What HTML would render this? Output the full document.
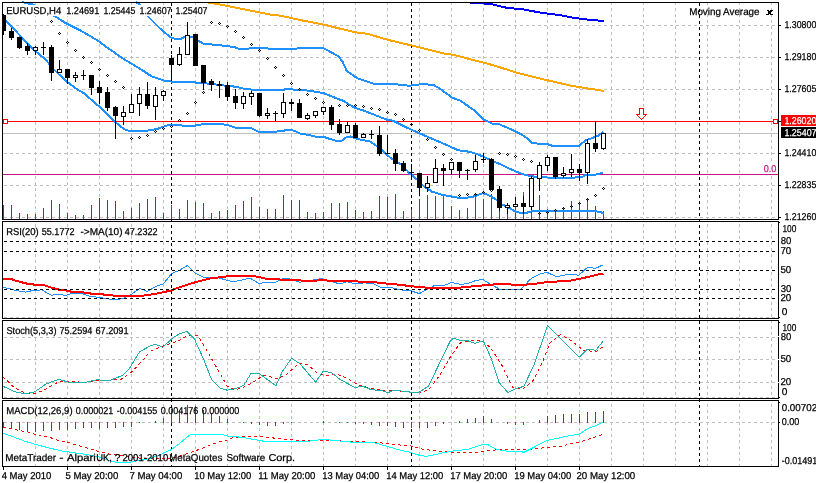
<!DOCTYPE html>
<html><head><meta charset="utf-8"><style>html,body{margin:0;padding:0;width:816px;height:483px;overflow:hidden;background:#fff}</style></head>
<body>
<svg width="816" height="483" viewBox="0 0 816 483" shape-rendering="crispEdges" style="display:block;position:absolute;left:0;top:0;will-change:transform">
<rect x="0" y="0" width="816" height="483" fill="#fff"/>
<path d="M35.5,3V219M67.5,3V219M99.5,3V219M131.5,3V219M163.5,3V219M195.5,3V219M227.5,3V219M259.5,3V219M291.5,3V219M323.5,3V219M355.5,3V219M387.5,3V219M419.5,3V219M451.5,3V219M483.5,3V219M515.5,3V219M547.5,3V219M579.5,3V219M611.5,3V219M643.5,3V219M675.5,3V219M707.5,3V219M739.5,3V219M771.5,3V219" stroke="#c0c0c0" stroke-width="1" stroke-dasharray="3 3" stroke-dashoffset="1" fill="none"/>
<path d="M35.5,222V318M67.5,222V318M99.5,222V318M131.5,222V318M163.5,222V318M195.5,222V318M227.5,222V318M259.5,222V318M291.5,222V318M323.5,222V318M355.5,222V318M387.5,222V318M419.5,222V318M451.5,222V318M483.5,222V318M515.5,222V318M547.5,222V318M579.5,222V318M611.5,222V318M643.5,222V318M675.5,222V318M707.5,222V318M739.5,222V318M771.5,222V318" stroke="#c0c0c0" stroke-width="1" stroke-dasharray="3 3" stroke-dashoffset="4" fill="none"/>
<path d="M35.5,321V398M67.5,321V398M99.5,321V398M131.5,321V398M163.5,321V398M195.5,321V398M227.5,321V398M259.5,321V398M291.5,321V398M323.5,321V398M355.5,321V398M387.5,321V398M419.5,321V398M451.5,321V398M483.5,321V398M515.5,321V398M547.5,321V398M579.5,321V398M611.5,321V398M643.5,321V398M675.5,321V398M707.5,321V398M739.5,321V398M771.5,321V398" stroke="#c0c0c0" stroke-width="1" stroke-dasharray="3 3" stroke-dashoffset="1" fill="none"/>
<path d="M35.5,401V466M67.5,401V466M99.5,401V466M131.5,401V466M163.5,401V466M195.5,401V466M227.5,401V466M259.5,401V466M291.5,401V466M323.5,401V466M355.5,401V466M387.5,401V466M419.5,401V466M451.5,401V466M483.5,401V466M515.5,401V466M547.5,401V466M579.5,401V466M611.5,401V466M643.5,401V466M675.5,401V466M707.5,401V466M739.5,401V466M771.5,401V466" stroke="#c0c0c0" stroke-width="1" stroke-dasharray="3 3" stroke-dashoffset="3" fill="none"/>
<path d="M4,25.5H778M4,57.5H778M4,89.5H778M4,121.5H778M4,153.5H778M4,185.5H778M4,217.5H778M4,317.5H778M4,337.5H778M4,359.5H778M4,382.5H778M4,397.5H778M4,422.5H778" stroke="#c0c0c0" stroke-width="1" stroke-dasharray="3 3" fill="none"/>
<path d="M171.5,3V466M411.5,3V466M699.5,3V466" stroke="#000" stroke-width="1" stroke-dasharray="3 3" fill="none"/>
<path d="M3.5,205V219M11.5,205V219M19.5,213V219M27.5,214V219M35.5,214V219M43.5,208V219M51.5,200V219M59.5,204V219M67.5,213V219M75.5,215V219M83.5,215V219M91.5,205V219M99.5,198V219M107.5,200V219M115.5,201V219M123.5,211V219M131.5,208V219M139.5,203V219M147.5,199V219M155.5,197V219M163.5,213V219M171.5,205V219M179.5,209V219M187.5,200V219M195.5,202V219M203.5,203V219M211.5,213V219M219.5,211V219M227.5,210V219M235.5,205V219M243.5,201V219M251.5,197V219M259.5,207V219M267.5,209V219M275.5,209V219M283.5,195V219M291.5,200V219M299.5,200V219M307.5,212V219M315.5,213V219M323.5,212V219M331.5,203V219M339.5,203V219M347.5,202V219M355.5,210V219M363.5,212V219M371.5,211V219M379.5,196V219M387.5,197V219M395.5,194V219M403.5,211V219M411.5,209V219M419.5,199V219M427.5,195V219M435.5,196V219M443.5,195V219M451.5,206V219M459.5,210V219M467.5,208V219M475.5,194V219M483.5,199V219M491.5,194V219M499.5,211V219M507.5,212V219M515.5,207V219M523.5,192V219M531.5,210V219M539.5,195V219M547.5,209V219M555.5,209V219M563.5,208V219M571.5,201V219M579.5,202V219M587.5,198V219M595.5,206V219M603.5,211V219" stroke="#008000" stroke-width="1" fill="none"/>
<path d="M8,121.5H773" stroke="#ff0000" stroke-width="1"/>
<path d="M3,133.5H778" stroke="#c0c0c0" stroke-width="1"/>
<path d="M3,174.5H778" stroke="#c71585" stroke-width="1"/>
<polyline points="208.0,2.5 220.0,4.5 270.0,14.5 280.0,15.6 300.8,20.2 323.8,24.6 355.0,32.3 367.5,33.8 388.3,40.0 411.3,45.4 430.0,50.0 446.7,54.2 453.2,54.7 473.1,60.0 492.9,65.1 517.2,72.8 545.9,79.9 572.4,86.0 603.7,90.9" stroke="#ffa500" stroke-width="2" fill="none" shape-rendering="crispEdges"/>
<polyline points="470.0,2.5 475.3,2.9 490.7,4.0 506.2,7.7 523.8,9.5 541.5,12.8 559.1,15.0 572.4,17.6 590.0,19.9 603.7,21.0" stroke="#0000ff" stroke-width="2" fill="none" shape-rendering="crispEdges"/>
<polyline points="135.5,2.0 139.5,4.5 147.5,16.0 160.0,28.5 170.4,37.3 175.5,39.0 180.7,38.8 185.9,36.2 192.0,36.7 203.5,43.8 211.8,44.5 227.3,46.0 235.4,47.4 239.5,49.0 259.2,48.0 275.8,49.0 280.0,49.4 300.8,48.3 323.8,48.3 338.3,56.2 342.5,61.5 346.7,70.8 357.1,78.1 375.8,84.4 396.7,84.4 409.2,85.8 423.8,83.8 434.2,85.4 440.0,88.7 451.8,97.4 459.9,100.5 473.5,109.8 484.1,119.8 492.2,123.5 499.0,124.1 514.5,130.9 522.0,134.7 529.4,140.0 532.5,143.1 540.0,143.8 547.2,144.0 551.4,145.5 579.3,145.5 585.5,140.4 591.8,138.3 598.0,135.7 603.4,131.6" stroke="#1e90ff" stroke-width="2" fill="none" shape-rendering="crispEdges"/>
<polyline points="22.0,2.0 32.5,4.5 55.9,16.7 66.3,23.5 80.0,30.2 96.8,40.0 108.2,48.3 124.0,59.2 142.0,70.0 151.3,76.2 164.1,80.5 171.4,81.6 195.2,81.9 196.2,82.9 208.7,83.6 224.2,85.5 234.4,86.6 243.7,88.6 252.0,89.7 284.0,89.7 286.0,88.6 291.3,88.8 294.4,90.2 306.4,90.4 315.7,91.7 324.0,93.3 335.9,98.1 344.2,101.2 350.4,105.3 356.0,108.3 363.0,110.3 371.0,113.4 382.0,117.8 388.0,120.0 392.4,120.6 401.2,124.8 411.0,129.6 420.2,133.6 436.0,140.4 446.7,145.0 458.0,150.2 470.4,151.9 480.7,155.5 491.0,160.2 501.4,164.8 511.4,169.5 522.8,174.3 532.0,176.4 547.3,177.5 557.6,177.8 581.4,177.4 584.5,175.5 595.9,174.5 603.1,172.6" stroke="#1e90ff" stroke-width="2" fill="none" shape-rendering="crispEdges"/>
<polyline points="3.0,19.0 5.7,20.9 15.5,30.7 25.9,42.1 35.2,50.9 45.0,59.0 54.4,70.0 64.7,79.9 77.0,89.2 84.0,93.3 97.5,105.2 100.0,106.7 114.5,121.5 123.8,129.0 129.0,130.8 146.6,130.8 157.0,129.0 167.3,125.4 176.0,124.7 182.7,125.6 194.9,125.6 204.3,124.0 219.1,124.0 227.2,124.9 235.3,127.6 251.5,128.3 258.2,131.7 275.8,131.7 290.4,129.7 296.6,131.8 300.7,133.8 309.0,134.9 316.2,136.9 323.5,136.9 331.8,139.5 338.0,141.6 342.1,140.5 346.2,137.4 350.4,136.4 355.6,138.5 360.0,139.5 370.2,141.6 380.4,148.6 390.7,158.1 401.0,164.3 410.0,173.7 416.7,179.2 424.0,186.4 431.9,191.6 442.0,194.8 459.9,198.0 471.4,197.3 483.0,193.2 488.3,195.0 495.5,199.2 502.0,204.5 507.2,206.7 511.6,209.3 516.0,211.8 521.0,212.9 526.8,212.9 529.0,211.7 540.0,210.7 594.0,210.9 603.7,213.0" stroke="#1e90ff" stroke-width="2" fill="none" shape-rendering="crispEdges"/>
<rect x="762" y="163" width="15" height="11" fill="#fff"/>
<rect x="3" y="5" width="206" height="11" fill="#fff"/>
<path d="M171.5,3V16" stroke="#000" stroke-width="1" stroke-dasharray="3 3" fill="none"/>
<path d="M34,48h3v2h-3zM58,70h3v2h-3zM74,76h3v1h-3zM122,113h3v3h-3zM130,105h3v7h-3zM138,95h3v8h-3zM154,96h3v10h-3zM162,92h3v3h-3zM178,55h3v9h-3zM186,36h3v18h-3zM242,97h3v6h-3zM250,94h3v2h-3zM266,114h3v1h-3zM282,103h3v10h-3zM306,116h3v2h-3zM314,112h3v3h-3zM322,108h3v3h-3zM346,126h3v6h-3zM362,135h3v2h-3zM426,184h3v3h-3zM434,169h3v13h-3zM450,163h3v6h-3zM474,162h3v7h-3zM506,206h3v1h-3zM514,205h3v1h-3zM530,179h3v27h-3zM538,166h3v12h-3zM546,158h3v7h-3zM562,174h3v1h-3zM570,170h3v2h-3zM586,144h3v28h-3zM602,134h3v14h-3z" fill="#fff"/>
<path d="M3.5,14V35M11.5,28V40M19.5,37V49M27.5,43V55M35.5,46V55M43.5,42V55M51.5,45V81M59.5,60V73M67.5,69V84M75.5,72V82M83.5,70V80M91.5,75V95M99.5,81V104M107.5,87V111M115.5,106V139M123.5,106V125M131.5,94V113M139.5,87V116M147.5,82V109M155.5,87V120M163.5,90V101M171.5,55V81M179.5,47V66M187.5,22V55M195.5,34V66M203.5,65V90M211.5,79V91M219.5,81V98M227.5,82V101M235.5,89V109M243.5,92V109M251.5,91V105M259.5,93V117M267.5,108V119M275.5,111V121M283.5,93V118M291.5,99V111M299.5,99V118M307.5,113V120M315.5,111V118M323.5,107V115M331.5,105V130M339.5,119V135M347.5,122V133M355.5,123V138M363.5,133V138M371.5,130V139M379.5,126V156M387.5,135V154M395.5,149V171M403.5,161V172M411.5,164V178M419.5,173V196M427.5,176V192M435.5,159V183M443.5,164V186M451.5,162V175M459.5,162V178M467.5,169V180M475.5,155V172M483.5,153V163M491.5,158V190M499.5,186V211M507.5,203V214M515.5,197V207M523.5,196V214M531.5,176V210M539.5,162V191M547.5,155V171M555.5,157V179M563.5,167V178M571.5,154V177M579.5,164V181M587.5,139V184M595.5,121V152M603.5,133V150" stroke="#000" stroke-width="1" fill="none"/>
<path d="M34,48h3v2h-3zM58,70h3v2h-3zM74,76h3v1h-3zM122,113h3v3h-3zM130,105h3v7h-3zM138,95h3v8h-3zM154,96h3v10h-3zM162,92h3v3h-3zM178,55h3v9h-3zM186,36h3v18h-3zM242,97h3v6h-3zM250,94h3v2h-3zM266,114h3v1h-3zM282,103h3v10h-3zM306,116h3v2h-3zM314,112h3v3h-3zM322,108h3v3h-3zM346,126h3v6h-3zM362,135h3v2h-3zM426,184h3v3h-3zM434,169h3v13h-3zM450,163h3v6h-3zM474,162h3v7h-3zM506,206h3v1h-3zM514,205h3v1h-3zM530,179h3v27h-3zM538,166h3v12h-3zM546,158h3v7h-3zM562,174h3v1h-3zM570,170h3v2h-3zM586,144h3v28h-3zM602,134h3v14h-3z" fill="#fff"/>
<path d="M3,15h3v16h-3zM9,31h5v7h-5zM17,37h5v11h-5zM25,46h5v5h-5zM33,47h5v1h-5zM33,50h5v1h-5zM33,47h1v4h-1zM37,47h1v4h-1zM41,47h5v1h-5zM49,47h5v26h-5zM57,69h5v1h-5zM57,72h5v1h-5zM57,69h1v4h-1zM61,69h1v4h-1zM65,69h5v9h-5zM73,75h5v1h-5zM73,77h5v1h-5zM73,75h1v3h-1zM77,75h1v3h-1zM81,75h5v1h-5zM89,75h5v13h-5zM97,87h5v6h-5zM105,92h5v16h-5zM113,107h5v9h-5zM121,112h5v1h-5zM121,116h5v1h-5zM121,112h1v5h-1zM125,112h1v5h-1zM129,104h5v1h-5zM129,112h5v1h-5zM129,104h1v9h-1zM133,104h1v9h-1zM137,94h5v1h-5zM137,103h5v1h-5zM137,94h1v10h-1zM141,94h1v10h-1zM145,94h5v12h-5zM153,95h5v1h-5zM153,106h5v1h-5zM153,95h1v12h-1zM157,95h1v12h-1zM161,91h5v1h-5zM161,95h5v1h-5zM161,91h1v5h-1zM165,91h1v5h-1zM169,58h5v7h-5zM177,54h5v1h-5zM177,64h5v1h-5zM177,54h1v11h-1zM181,54h1v11h-1zM185,35h5v1h-5zM185,54h5v1h-5zM185,35h1v20h-1zM189,35h1v20h-1zM193,34h5v32h-5zM201,65h5v18h-5zM209,81h5v4h-5zM217,84h5v2h-5zM225,85h5v12h-5zM233,96h5v7h-5zM241,96h5v1h-5zM241,103h5v1h-5zM241,96h1v8h-1zM245,96h1v8h-1zM249,93h5v1h-5zM249,96h5v1h-5zM249,93h1v4h-1zM253,93h1v4h-1zM257,93h5v23h-5zM265,113h5v1h-5zM265,115h5v1h-5zM265,113h1v3h-1zM269,113h1v3h-1zM273,113h5v1h-5zM281,102h5v1h-5zM281,113h5v1h-5zM281,102h1v12h-1zM285,102h1v12h-1zM289,102h5v2h-5zM297,103h5v15h-5zM305,115h5v1h-5zM305,118h5v1h-5zM305,115h1v4h-1zM309,115h1v4h-1zM313,111h5v1h-5zM313,115h5v1h-5zM313,111h1v5h-1zM317,111h1v5h-1zM321,107h5v1h-5zM321,111h5v1h-5zM321,107h1v5h-1zM325,107h1v5h-1zM329,107h5v18h-5zM337,124h5v9h-5zM345,125h5v1h-5zM345,132h5v1h-5zM345,125h1v8h-1zM349,125h1v8h-1zM353,125h5v13h-5zM361,134h5v1h-5zM361,137h5v1h-5zM361,134h1v4h-1zM365,134h1v4h-1zM369,134h5v1h-5zM377,135h5v19h-5zM385,153h5v1h-5zM393,153h5v11h-5zM401,163h5v8h-5zM409,172h5v1h-5zM417,173h5v15h-5zM425,183h5v1h-5zM425,187h5v1h-5zM425,183h1v5h-1zM429,183h1v5h-1zM433,168h5v1h-5zM433,182h5v1h-5zM433,168h1v15h-1zM437,168h1v15h-1zM441,168h5v3h-5zM449,162h5v1h-5zM449,169h5v1h-5zM449,162h1v8h-1zM453,162h1v8h-1zM457,162h5v9h-5zM465,170h5v1h-5zM473,161h5v1h-5zM473,169h5v1h-5zM473,161h1v9h-1zM477,161h1v9h-1zM481,159h5v1h-5zM489,159h5v31h-5zM497,189h5v19h-5zM505,205h5v1h-5zM505,207h5v1h-5zM505,205h1v3h-1zM509,205h1v3h-1zM513,204h5v1h-5zM513,206h5v1h-5zM513,204h1v3h-1zM517,204h1v3h-1zM521,203h5v4h-5zM529,178h5v1h-5zM529,206h5v1h-5zM529,178h1v29h-1zM533,178h1v29h-1zM537,165h5v1h-5zM537,178h5v1h-5zM537,165h1v14h-1zM541,165h1v14h-1zM545,157h5v1h-5zM545,165h5v1h-5zM545,157h1v9h-1zM549,157h1v9h-1zM553,157h5v20h-5zM561,173h5v1h-5zM561,175h5v1h-5zM561,173h1v3h-1zM565,173h1v3h-1zM569,169h5v1h-5zM569,172h5v1h-5zM569,169h1v4h-1zM573,169h1v4h-1zM577,169h5v4h-5zM585,143h5v1h-5zM585,172h5v1h-5zM585,143h1v30h-1zM589,143h1v30h-1zM593,143h5v6h-5zM601,133h5v1h-5zM601,148h5v1h-5zM601,133h1v16h-1zM605,133h1v16h-1z" fill="#000"/>
<path d="M51,20h1v1h-1zM50,21h1v1h-1zM52,21h1v1h-1zM51,22h1v1h-1zM59,32h1v1h-1zM58,33h1v1h-1zM60,33h1v1h-1zM59,34h1v1h-1zM67,41h1v1h-1zM66,42h1v1h-1zM68,42h1v1h-1zM67,43h1v1h-1zM75,49h1v1h-1zM74,50h1v1h-1zM76,50h1v1h-1zM75,51h1v1h-1zM83,56h1v1h-1zM82,57h1v1h-1zM84,57h1v1h-1zM83,58h1v1h-1zM91,61h1v1h-1zM90,62h1v1h-1zM92,62h1v1h-1zM91,63h1v1h-1zM99,68h1v1h-1zM98,69h1v1h-1zM100,69h1v1h-1zM99,70h1v1h-1zM107,74h1v1h-1zM106,75h1v1h-1zM108,75h1v1h-1zM107,76h1v1h-1zM115,80h1v1h-1zM114,81h1v1h-1zM116,81h1v1h-1zM115,82h1v1h-1zM123,86h1v1h-1zM122,87h1v1h-1zM124,87h1v1h-1zM123,88h1v1h-1zM131,137h1v1h-1zM130,138h1v1h-1zM132,138h1v1h-1zM131,139h1v1h-1zM139,136h1v1h-1zM138,137h1v1h-1zM140,137h1v1h-1zM139,138h1v1h-1zM147,134h1v1h-1zM146,135h1v1h-1zM148,135h1v1h-1zM147,136h1v1h-1zM155,130h1v1h-1zM154,131h1v1h-1zM156,131h1v1h-1zM155,132h1v1h-1zM163,127h1v1h-1zM162,128h1v1h-1zM164,128h1v1h-1zM163,129h1v1h-1zM171,125h1v1h-1zM170,126h1v1h-1zM172,126h1v1h-1zM171,127h1v1h-1zM179,119h1v1h-1zM178,120h1v1h-1zM180,120h1v1h-1zM179,121h1v1h-1zM187,112h1v1h-1zM186,113h1v1h-1zM188,113h1v1h-1zM187,114h1v1h-1zM195,101h1v1h-1zM194,102h1v1h-1zM196,102h1v1h-1zM195,103h1v1h-1zM203,91h1v1h-1zM202,92h1v1h-1zM204,92h1v1h-1zM203,93h1v1h-1zM211,21h1v1h-1zM210,22h1v1h-1zM212,22h1v1h-1zM211,23h1v1h-1zM219,22h1v1h-1zM218,23h1v1h-1zM220,23h1v1h-1zM219,24h1v1h-1zM227,25h1v1h-1zM226,26h1v1h-1zM228,26h1v1h-1zM227,27h1v1h-1zM235,30h1v1h-1zM234,31h1v1h-1zM236,31h1v1h-1zM235,32h1v1h-1zM243,36h1v1h-1zM242,37h1v1h-1zM244,37h1v1h-1zM243,38h1v1h-1zM251,43h1v1h-1zM250,44h1v1h-1zM252,44h1v1h-1zM251,45h1v1h-1zM259,49h1v1h-1zM258,50h1v1h-1zM260,50h1v1h-1zM259,51h1v1h-1zM267,57h1v1h-1zM266,58h1v1h-1zM268,58h1v1h-1zM267,59h1v1h-1zM275,66h1v1h-1zM274,67h1v1h-1zM276,67h1v1h-1zM275,68h1v1h-1zM283,74h1v1h-1zM282,75h1v1h-1zM284,75h1v1h-1zM283,76h1v1h-1zM291,82h1v1h-1zM290,83h1v1h-1zM292,83h1v1h-1zM291,84h1v1h-1zM299,88h1v1h-1zM298,89h1v1h-1zM300,89h1v1h-1zM299,90h1v1h-1zM307,93h1v1h-1zM306,94h1v1h-1zM308,94h1v1h-1zM307,95h1v1h-1zM315,97h1v1h-1zM314,98h1v1h-1zM316,98h1v1h-1zM315,99h1v1h-1zM323,101h1v1h-1zM322,102h1v1h-1zM324,102h1v1h-1zM323,103h1v1h-1zM339,104h1v1h-1zM338,105h1v1h-1zM340,105h1v1h-1zM339,106h1v1h-1zM347,104h1v1h-1zM346,105h1v1h-1zM348,105h1v1h-1zM347,106h1v1h-1zM355,104h1v1h-1zM354,105h1v1h-1zM356,105h1v1h-1zM355,106h1v1h-1zM363,105h1v1h-1zM362,106h1v1h-1zM364,106h1v1h-1zM363,107h1v1h-1zM371,107h1v1h-1zM370,108h1v1h-1zM372,108h1v1h-1zM371,109h1v1h-1zM379,108h1v1h-1zM378,109h1v1h-1zM380,109h1v1h-1zM379,110h1v1h-1zM387,111h1v1h-1zM386,112h1v1h-1zM388,112h1v1h-1zM387,113h1v1h-1zM395,113h1v1h-1zM394,114h1v1h-1zM396,114h1v1h-1zM395,115h1v1h-1zM403,118h1v1h-1zM402,119h1v1h-1zM404,119h1v1h-1zM403,120h1v1h-1zM411,123h1v1h-1zM410,124h1v1h-1zM412,124h1v1h-1zM411,125h1v1h-1zM419,129h1v1h-1zM418,130h1v1h-1zM420,130h1v1h-1zM419,131h1v1h-1zM427,138h1v1h-1zM426,139h1v1h-1zM428,139h1v1h-1zM427,140h1v1h-1zM435,146h1v1h-1zM434,147h1v1h-1zM436,147h1v1h-1zM435,148h1v1h-1zM443,153h1v1h-1zM442,154h1v1h-1zM444,154h1v1h-1zM443,155h1v1h-1zM451,158h1v1h-1zM450,159h1v1h-1zM452,159h1v1h-1zM451,160h1v1h-1zM459,194h1v1h-1zM458,195h1v1h-1zM460,195h1v1h-1zM459,196h1v1h-1zM467,193h1v1h-1zM466,194h1v1h-1zM468,194h1v1h-1zM467,195h1v1h-1zM475,193h1v1h-1zM474,194h1v1h-1zM476,194h1v1h-1zM475,195h1v1h-1zM483,191h1v1h-1zM482,192h1v1h-1zM484,192h1v1h-1zM483,193h1v1h-1zM491,189h1v1h-1zM490,190h1v1h-1zM492,190h1v1h-1zM491,191h1v1h-1zM499,152h1v1h-1zM498,153h1v1h-1zM500,153h1v1h-1zM499,154h1v1h-1zM507,153h1v1h-1zM506,154h1v1h-1zM508,154h1v1h-1zM507,155h1v1h-1zM515,155h1v1h-1zM514,156h1v1h-1zM516,156h1v1h-1zM515,157h1v1h-1zM523,158h1v1h-1zM522,159h1v1h-1zM524,159h1v1h-1zM523,160h1v1h-1zM531,160h1v1h-1zM530,161h1v1h-1zM532,161h1v1h-1zM531,162h1v1h-1zM539,212h1v1h-1zM538,213h1v1h-1zM540,213h1v1h-1zM539,214h1v1h-1zM547,211h1v1h-1zM546,212h1v1h-1zM548,212h1v1h-1zM547,213h1v1h-1zM555,209h1v1h-1zM554,210h1v1h-1zM556,210h1v1h-1zM555,211h1v1h-1zM563,207h1v1h-1zM562,208h1v1h-1zM564,208h1v1h-1zM563,209h1v1h-1zM571,205h1v1h-1zM570,206h1v1h-1zM572,206h1v1h-1zM571,207h1v1h-1zM579,202h1v1h-1zM578,203h1v1h-1zM580,203h1v1h-1zM579,204h1v1h-1zM587,198h1v1h-1zM586,199h1v1h-1zM588,199h1v1h-1zM587,200h1v1h-1zM595,194h1v1h-1zM594,195h1v1h-1zM596,195h1v1h-1zM595,196h1v1h-1zM603,187h1v1h-1zM602,188h1v1h-1zM604,188h1v1h-1zM603,189h1v1h-1z" fill="#000"/>
<path d="M639.5,108.5H643.5V114.5H646.5L641.5,119.5L636.5,114.5H639.5Z" fill="#fff" stroke="#ff0000" stroke-width="1"/>
<rect x="773.5" y="119.5" width="4" height="4" fill="#fff" stroke="#ff0000" stroke-width="1"/>
<rect x="3.5" y="119.5" width="4" height="4" fill="#fff" stroke="#ff0000" stroke-width="1"/>
<polyline points="2.7,287.6 8.1,288.3 14.8,290.3 25.6,292.1 33.7,290.3 41.8,289.9 51.2,295.3 58.0,294.4 66.0,295.3 71.4,293.4 80.9,293.0 89.0,296.1 99.8,297.5 114.7,300.0 123.9,298.2 131.2,294.5 139.5,288.5 147.4,291.4 157.0,285.9 163.4,284.0 171.7,273.4 179.0,270.6 187.3,265.5 195.6,273.4 203.9,277.4 217.6,277.4 226.8,280.4 234.2,281.7 250.0,278.2 259.2,283.5 264.7,282.6 275.7,282.2 283.1,278.5 288.6,278.5 299.6,282.2 321.7,278.5 327.2,280.4 340.0,284.0 347.4,281.7 354.8,284.0 364.0,282.9 373.2,283.5 380.5,287.2 391.5,287.7 400.0,289.8 411.0,290.8 419.3,293.6 434.9,285.3 444.1,285.3 451.5,282.6 460.7,284.4 468.0,283.5 475.4,280.7 482.7,279.3 490.0,284.0 499.3,289.0 510.3,289.0 521.3,289.0 530.0,279.5 534.9,276.4 541.0,273.6 547.2,272.4 555.7,276.4 559.4,276.1 568.0,274.4 575.3,274.4 578.4,275.6 587.6,267.2 591.3,267.2 593.7,268.2 596.8,267.9 599.9,266.3 602.9,265.0" stroke="#1e90ff" stroke-width="1" fill="none" shape-rendering="crispEdges"/>
<polyline points="2.7,278.9 10.8,278.9 16.2,280.9 27.0,283.6 36.4,284.9 43.1,284.9 51.2,287.6 59.3,289.7 67.4,290.7 72.8,292.1 83.6,292.4 91.7,293.7 107.8,294.8 116.5,296.0 140.0,296.0 155.0,294.0 169.9,290.8 182.7,286.2 195.6,282.2 210.3,278.5 228.7,276.1 250.0,275.6 259.2,277.0 268.4,279.3 297.8,279.8 301.5,280.7 316.2,280.7 319.9,279.8 323.5,280.4 364.0,281.7 378.7,282.6 389.7,283.9 400.0,284.8 411.0,286.2 427.6,287.7 458.8,287.7 477.2,285.9 499.3,284.0 517.6,284.8 530.0,284.4 539.8,283.2 548.4,281.7 566.8,281.3 579.0,278.9 588.8,276.8 598.6,274.4 603.5,273.6" stroke="#ff0000" stroke-width="2" fill="none" shape-rendering="crispEdges"/>
<path d="M4,241.5H778M4,251.5H778M4,270.5H778M4,289.5H778M4,298.5H778" stroke="#000" stroke-width="1" stroke-dasharray="3 3" fill="none"/>
<polyline points="2.8,376.6 14.7,388.0 25.7,393.2 36.8,393.2 47.8,388.0 58.8,381.6 73.5,381.6 84.6,382.5 95.6,381.0 108.5,380.7 121.3,379.2 132.4,371.5 143.4,359.5 150.0,351.5 161.0,346.7 172.1,343.0 179.4,340.6 186.8,335.6 197.8,335.6 205.1,347.6 212.5,360.4 219.9,373.3 227.2,386.2 234.6,389.9 241.9,388.0 252.9,382.5 264.0,375.1 276.8,378.8 286.0,375.1 297.0,365.0 300.0,363.2 307.4,364.5 318.4,374.2 323.9,375.1 338.6,374.8 347.8,378.8 358.8,385.3 373.5,388.9 384.6,390.2 395.6,390.8 419.5,392.6 428.7,389.9 439.7,375.1 450.0,357.6 460.4,342.9 470.8,340.4 483.3,341.2 491.7,349.2 502.1,365.8 512.5,387.1 522.9,389.2 533.3,380.4 541.7,363.8 550.0,342.9 560.4,334.6 568.8,338.8 583.3,350.2 595.8,351.7 603.1,346.7" stroke="#ff0000" stroke-width="1" stroke-dasharray="3 3" fill="none" shape-rendering="crispEdges"/>
<polyline points="2.8,386.2 14.7,391.7 25.7,393.9 34.9,391.7 46.0,384.0 58.8,379.2 68.0,382.1 82.7,382.9 97.4,379.7 108.5,381.0 123.2,375.1 128.7,369.6 139.7,351.6 150.0,346.1 155.5,344.3 162.9,347.2 172.1,338.4 179.4,333.8 186.8,331.4 194.1,338.4 203.3,358.6 211.6,379.7 219.9,388.0 227.2,390.2 236.4,388.4 243.8,385.3 251.1,373.3 259.4,373.7 267.6,379.7 275.9,385.8 282.4,371.5 291.5,358.2 300.0,363.8 315.6,382.1 323.0,371.5 331.2,372.4 340.4,379.7 355.1,387.6 362.5,386.2 371.7,389.9 380.9,390.2 388.2,392.6 393.8,390.2 410.3,392.1 419.5,392.1 428.7,385.8 450.0,341.5 453.1,338.3 460.4,340.4 466.7,340.4 475.0,343.3 483.3,340.8 491.7,359.6 499.0,382.5 507.9,392.5 514.6,389.2 524.0,386.2 534.4,363.8 547.5,325.8 558.3,336.2 579.2,357.1 587.5,349.2 595.8,350.2 603.1,341.2" stroke="#20b2aa" stroke-width="1" fill="none" shape-rendering="crispEdges"/>
<path d="M3.5,422V427M11.5,422V429M19.5,422V430M27.5,422V432M35.5,422V432M43.5,422V431M51.5,422V431M59.5,422V430M67.5,422V430M75.5,422V429M83.5,422V428M91.5,422V428M99.5,422V429M107.5,422V428M115.5,422V428M123.5,422V427M131.5,422V427M139.5,422V423M243.5,422V423M251.5,422V424M259.5,422V425M267.5,422V426M275.5,422V426M283.5,422V424M291.5,422V423M339.5,422V423M347.5,422V423M355.5,422V424M363.5,422V424M371.5,422V425M379.5,422V426M387.5,422V426M395.5,422V427M403.5,422V428M411.5,422V428M419.5,422V428M427.5,422V428M435.5,422V426M443.5,422V424M507.5,422V424M515.5,422V425M523.5,422V425" stroke="#ff0000" stroke-width="1" fill="none"/>
<path d="M155.5,421V423M163.5,418V423M171.5,409V423M179.5,411V423M187.5,405V423M195.5,406V423M203.5,410V423M211.5,413V423M219.5,416V423M227.5,419V423M323.5,421V423M459.5,421V423M467.5,419V423M475.5,418V423M483.5,416V423M491.5,419V423M539.5,420V423M547.5,416V423M555.5,415V423M563.5,414V423M571.5,414V423M579.5,414V423M587.5,412V423M595.5,412V423M603.5,411V423" stroke="#008000" stroke-width="1" fill="none"/>
<polyline points="3.4,427.3 11.3,428.9 19.2,430.5 27.6,432.0 35.5,434.4 42.9,435.6 51.5,438.0 59.7,441.1 67.4,442.3 77.8,445.3 89.6,448.7 99.4,451.7 109.2,454.1 119.0,455.1 128.8,456.6 138.6,458.0 150.0,458.8 169.6,458.4 179.4,456.4 189.2,453.0 199.0,449.5 208.8,445.6 218.6,442.2 226.5,440.2 233.2,437.7 248.7,436.2 264.1,436.9 286.2,439.5 308.2,440.6 330.3,440.0 352.4,441.7 374.4,442.2 400.0,445.0 411.8,446.1 423.5,449.4 448.5,452.0 478.0,452.3 485.3,450.8 503.0,449.4 532.0,449.4 546.8,447.3 563.0,446.1 571.8,443.2 580.6,441.7 590.9,438.5 599.7,435.5 603.0,434.5" stroke="#ff0000" stroke-width="1" stroke-dasharray="3 3" fill="none" shape-rendering="crispEdges"/>
<polyline points="3.0,433.2 14.7,437.4 24.5,441.1 36.8,444.8 49.0,447.9 61.3,450.9 70.0,452.2 79.8,453.5 89.6,455.1 99.4,457.1 109.2,460.5 119.0,463.0 128.8,462.5 138.6,460.5 150.0,458.4 159.8,454.9 171.6,449.5 179.4,443.6 189.2,435.3 193.1,434.3 221.6,434.3 226.5,436.0 242.0,437.3 266.3,441.7 286.2,441.3 308.2,441.3 321.5,439.5 330.3,440.0 352.4,442.2 374.4,442.8 400.0,450.1 408.8,452.0 419.1,455.2 426.5,456.4 436.8,454.2 450.0,451.3 467.6,449.4 482.4,444.4 488.2,444.9 497.0,449.4 507.4,451.3 518.8,451.3 524.0,452.3 532.0,448.3 546.8,440.5 554.1,439.0 568.8,435.8 579.1,434.1 588.0,428.5 595.3,425.8 603.5,421.9" stroke="#00ffff" stroke-width="1" fill="none" shape-rendering="crispEdges"/>
<path d="M2.5,2V220M2,2.5H779M778.5,2V220M2,219.5H779M2.5,221V319M2,221.5H779M778.5,221V319M2,318.5H779M2.5,320V399M2,320.5H779M778.5,320V399M2,398.5H779M2.5,400V467M2,400.5H779M778.5,400V467M2,466.5H779" stroke="#000" stroke-width="1" fill="none"/>
<path d="M779,25.5H781M779,57.5H781M779,89.5H781M779,121.5H781M779,153.5H781M779,185.5H781M779,217.5H781M779,222.5H780M779,317.5H780M779,322.5H780M779,397.5H780M779,402.5H780M779,422.5H780M3.5,466V470M67.5,466V470M131.5,466V470M195.5,466V470M259.5,466V470M323.5,466V470M387.5,466V470M451.5,466V470M515.5,466V470M579.5,466V470" stroke="#000" stroke-width="1" fill="none"/>
<path d="M778,336h1v1h-1zM778,359h1v1h-1zM778,382h1v1h-1z" fill="#fff"/>
<rect x="762" y="163" width="15" height="11" fill="#fff"/>
<path d="M767,10h2v1h-2zM770,10h3v1h-3zM768,11h4v1h-4zM768,12h3v2h-3zM766,14h3v1h-3zM770,14h3v1h-3z" fill="#000"/>
<rect x="781" y="115" width="35" height="11" fill="#ff0000"/>
<rect x="781" y="127" width="35" height="11" fill="#000"/>
<text x="6.19" y="14" font-family='"Liberation Sans", sans-serif' font-size="10" text-rendering="geometricPrecision" fill="#000" stroke="#000" stroke-width="0.25" text-anchor="start" font-weight="normal" textLength="55.11" lengthAdjust="spacingAndGlyphs" xml:space="preserve">EURUSD,H4</text>
<text x="66.19" y="14" font-family='"Liberation Sans", sans-serif' font-size="10" text-rendering="geometricPrecision" fill="#000" stroke="#000" stroke-width="0.25" text-anchor="start" font-weight="normal" textLength="33.13" lengthAdjust="spacingAndGlyphs" xml:space="preserve">1.24691</text>
<text x="103.45" y="14" font-family='"Liberation Sans", sans-serif' font-size="10" text-rendering="geometricPrecision" fill="#000" stroke="#000" stroke-width="0.25" text-anchor="start" font-weight="normal" textLength="31.86" lengthAdjust="spacingAndGlyphs" xml:space="preserve">1.25445</text>
<text x="139.44" y="14" font-family='"Liberation Sans", sans-serif' font-size="10" text-rendering="geometricPrecision" fill="#000" stroke="#000" stroke-width="0.25" text-anchor="start" font-weight="normal" textLength="32.12" lengthAdjust="spacingAndGlyphs" xml:space="preserve">1.24607</text>
<text x="175.44" y="14" font-family='"Liberation Sans", sans-serif' font-size="10" text-rendering="geometricPrecision" fill="#000" stroke="#000" stroke-width="0.25" text-anchor="start" font-weight="normal" textLength="32.12" lengthAdjust="spacingAndGlyphs" xml:space="preserve">1.25407</text>
<text x="689.19" y="15" font-family='"Liberation Sans", sans-serif' font-size="10" text-rendering="geometricPrecision" fill="#000" stroke="#000" stroke-width="0.25" text-anchor="start" font-weight="normal" textLength="70.36" lengthAdjust="spacingAndGlyphs" xml:space="preserve">Moving Average</text>
<text x="784.45" y="28" font-family='"Liberation Sans", sans-serif' font-size="10" text-rendering="geometricPrecision" fill="#000" stroke="#000" stroke-width="0.25" text-anchor="start" font-weight="normal" textLength="31.86" lengthAdjust="spacingAndGlyphs" xml:space="preserve">1.30800</text>
<text x="784.45" y="60" font-family='"Liberation Sans", sans-serif' font-size="10" text-rendering="geometricPrecision" fill="#000" stroke="#000" stroke-width="0.25" text-anchor="start" font-weight="normal" textLength="31.86" lengthAdjust="spacingAndGlyphs" xml:space="preserve">1.29180</text>
<text x="784.45" y="92" font-family='"Liberation Sans", sans-serif' font-size="10" text-rendering="geometricPrecision" fill="#000" stroke="#000" stroke-width="0.25" text-anchor="start" font-weight="normal" textLength="31.86" lengthAdjust="spacingAndGlyphs" xml:space="preserve">1.27605</text>
<text x="784.45" y="156" font-family='"Liberation Sans", sans-serif' font-size="10" text-rendering="geometricPrecision" fill="#000" stroke="#000" stroke-width="0.25" text-anchor="start" font-weight="normal" textLength="31.86" lengthAdjust="spacingAndGlyphs" xml:space="preserve">1.24410</text>
<text x="784.45" y="188" font-family='"Liberation Sans", sans-serif' font-size="10" text-rendering="geometricPrecision" fill="#000" stroke="#000" stroke-width="0.25" text-anchor="start" font-weight="normal" textLength="31.86" lengthAdjust="spacingAndGlyphs" xml:space="preserve">1.22835</text>
<text x="784.45" y="220" font-family='"Liberation Sans", sans-serif' font-size="10" text-rendering="geometricPrecision" fill="#000" stroke="#000" stroke-width="0.25" text-anchor="start" font-weight="normal" textLength="31.86" lengthAdjust="spacingAndGlyphs" xml:space="preserve">1.21260</text>
<text x="784.45" y="124" font-family='"Liberation Sans", sans-serif' font-size="10" text-rendering="geometricPrecision" fill="#fff" stroke="#fff" stroke-width="0.25" text-anchor="start" font-weight="normal" textLength="31.86" lengthAdjust="spacingAndGlyphs" xml:space="preserve">1.26020</text>
<text x="784.44" y="136" font-family='"Liberation Sans", sans-serif' font-size="10" text-rendering="geometricPrecision" fill="#fff" stroke="#fff" stroke-width="0.25" text-anchor="start" font-weight="normal" textLength="32.12" lengthAdjust="spacingAndGlyphs" xml:space="preserve">1.25407</text>
<text x="763.7" y="172" font-family='"Liberation Sans", sans-serif' font-size="10" text-rendering="geometricPrecision" fill="#c71585" stroke="#c71585" stroke-width="0.25" text-anchor="start" font-weight="normal" textLength="12.6" lengthAdjust="spacingAndGlyphs" xml:space="preserve">0.0</text>
<text x="6.18" y="235" font-family='"Liberation Sans", sans-serif' font-size="10" text-rendering="geometricPrecision" fill="#000" stroke="#000" stroke-width="0.25" text-anchor="start" font-weight="normal" textLength="32.38" lengthAdjust="spacingAndGlyphs" xml:space="preserve">RSI(20)</text>
<text x="41.7" y="235" font-family='"Liberation Sans", sans-serif' font-size="10" text-rendering="geometricPrecision" fill="#000" stroke="#000" stroke-width="0.25" text-anchor="start" font-weight="normal" textLength="32.86" lengthAdjust="spacingAndGlyphs" xml:space="preserve">55.1772</text>
<text x="80.44" y="235" font-family='"Liberation Sans", sans-serif' font-size="10" text-rendering="geometricPrecision" fill="#000" stroke="#000" stroke-width="0.25" text-anchor="start" font-weight="normal" textLength="42.11" lengthAdjust="spacingAndGlyphs" xml:space="preserve">-&gt;MA(10)</text>
<text x="124.7" y="235" font-family='"Liberation Sans", sans-serif' font-size="10" text-rendering="geometricPrecision" fill="#000" stroke="#000" stroke-width="0.25" text-anchor="start" font-weight="normal" textLength="32.86" lengthAdjust="spacingAndGlyphs" xml:space="preserve">47.2322</text>
<text x="782.44" y="232" font-family='"Liberation Sans", sans-serif' font-size="10" text-rendering="geometricPrecision" fill="#000" stroke="#000" stroke-width="0.25" text-anchor="start" font-weight="normal" textLength="13.87" lengthAdjust="spacingAndGlyphs" xml:space="preserve">100</text>
<text x="780.7" y="244" font-family='"Liberation Sans", sans-serif' font-size="10" text-rendering="geometricPrecision" fill="#000" stroke="#000" stroke-width="0.25" text-anchor="start" font-weight="normal" textLength="10.6" lengthAdjust="spacingAndGlyphs" xml:space="preserve">80</text>
<text x="780.44" y="254" font-family='"Liberation Sans", sans-serif' font-size="10" text-rendering="geometricPrecision" fill="#000" stroke="#000" stroke-width="0.25" text-anchor="start" font-weight="normal" textLength="10.87" lengthAdjust="spacingAndGlyphs" xml:space="preserve">70</text>
<text x="780.44" y="273" font-family='"Liberation Sans", sans-serif' font-size="10" text-rendering="geometricPrecision" fill="#000" stroke="#000" stroke-width="0.25" text-anchor="start" font-weight="normal" textLength="10.87" lengthAdjust="spacingAndGlyphs" xml:space="preserve">50</text>
<text x="780.7" y="292" font-family='"Liberation Sans", sans-serif' font-size="10" text-rendering="geometricPrecision" fill="#000" stroke="#000" stroke-width="0.25" text-anchor="start" font-weight="normal" textLength="10.6" lengthAdjust="spacingAndGlyphs" xml:space="preserve">30</text>
<text x="780.44" y="301" font-family='"Liberation Sans", sans-serif' font-size="10" text-rendering="geometricPrecision" fill="#000" stroke="#000" stroke-width="0.25" text-anchor="start" font-weight="normal" textLength="10.87" lengthAdjust="spacingAndGlyphs" xml:space="preserve">20</text>
<text x="781.7" y="315" font-family='"Liberation Sans", sans-serif' font-size="10" text-rendering="geometricPrecision" fill="#000" stroke="#000" stroke-width="0.25" text-anchor="start" font-weight="normal" textLength="5.6" lengthAdjust="spacingAndGlyphs" xml:space="preserve">0</text>
<text x="6.44" y="334" font-family='"Liberation Sans", sans-serif' font-size="10" text-rendering="geometricPrecision" fill="#000" stroke="#000" stroke-width="0.25" text-anchor="start" font-weight="normal" textLength="50.11" lengthAdjust="spacingAndGlyphs" xml:space="preserve">Stoch(5,3,3)</text>
<text x="59.45" y="334" font-family='"Liberation Sans", sans-serif' font-size="10" text-rendering="geometricPrecision" fill="#000" stroke="#000" stroke-width="0.25" text-anchor="start" font-weight="normal" textLength="32.86" lengthAdjust="spacingAndGlyphs" xml:space="preserve">75.2594</text>
<text x="95.44" y="334" font-family='"Liberation Sans", sans-serif' font-size="10" text-rendering="geometricPrecision" fill="#000" stroke="#000" stroke-width="0.25" text-anchor="start" font-weight="normal" textLength="33.12" lengthAdjust="spacingAndGlyphs" xml:space="preserve">67.2091</text>
<text x="782.44" y="331" font-family='"Liberation Sans", sans-serif' font-size="10" text-rendering="geometricPrecision" fill="#000" stroke="#000" stroke-width="0.25" text-anchor="start" font-weight="normal" textLength="13.87" lengthAdjust="spacingAndGlyphs" xml:space="preserve">100</text>
<text x="780.7" y="340" font-family='"Liberation Sans", sans-serif' font-size="10" text-rendering="geometricPrecision" fill="#000" stroke="#000" stroke-width="0.25" text-anchor="start" font-weight="normal" textLength="10.6" lengthAdjust="spacingAndGlyphs" xml:space="preserve">80</text>
<text x="780.44" y="362" font-family='"Liberation Sans", sans-serif' font-size="10" text-rendering="geometricPrecision" fill="#000" stroke="#000" stroke-width="0.25" text-anchor="start" font-weight="normal" textLength="10.87" lengthAdjust="spacingAndGlyphs" xml:space="preserve">50</text>
<text x="780.44" y="385" font-family='"Liberation Sans", sans-serif' font-size="10" text-rendering="geometricPrecision" fill="#000" stroke="#000" stroke-width="0.25" text-anchor="start" font-weight="normal" textLength="10.87" lengthAdjust="spacingAndGlyphs" xml:space="preserve">20</text>
<text x="781.7" y="395" font-family='"Liberation Sans", sans-serif' font-size="10" text-rendering="geometricPrecision" fill="#000" stroke="#000" stroke-width="0.25" text-anchor="start" font-weight="normal" textLength="5.6" lengthAdjust="spacingAndGlyphs" xml:space="preserve">0</text>
<text x="6.19" y="414" font-family='"Liberation Sans", sans-serif' font-size="10" text-rendering="geometricPrecision" fill="#000" stroke="#000" stroke-width="0.25" text-anchor="start" font-weight="normal" textLength="66.37" lengthAdjust="spacingAndGlyphs" xml:space="preserve">MACD(12,26,9)</text>
<text x="75.7" y="414" font-family='"Liberation Sans", sans-serif' font-size="10" text-rendering="geometricPrecision" fill="#000" stroke="#000" stroke-width="0.25" text-anchor="start" font-weight="normal" textLength="37.61" lengthAdjust="spacingAndGlyphs" xml:space="preserve">0.000021</text>
<text x="116.7" y="414" font-family='"Liberation Sans", sans-serif' font-size="10" text-rendering="geometricPrecision" fill="#000" stroke="#000" stroke-width="0.25" text-anchor="start" font-weight="normal" textLength="40.6" lengthAdjust="spacingAndGlyphs" xml:space="preserve">-0.004155</text>
<text x="160.7" y="414" font-family='"Liberation Sans", sans-serif' font-size="10" text-rendering="geometricPrecision" fill="#000" stroke="#000" stroke-width="0.25" text-anchor="start" font-weight="normal" textLength="37.6" lengthAdjust="spacingAndGlyphs" xml:space="preserve">0.004176</text>
<text x="201.7" y="414" font-family='"Liberation Sans", sans-serif' font-size="10" text-rendering="geometricPrecision" fill="#000" stroke="#000" stroke-width="0.25" text-anchor="start" font-weight="normal" textLength="37.6" lengthAdjust="spacingAndGlyphs" xml:space="preserve">0.000000</text>
<text x="781.7" y="411" font-family='"Liberation Sans", sans-serif' font-size="10" text-rendering="geometricPrecision" fill="#000" stroke="#000" stroke-width="0.25" text-anchor="start" font-weight="normal" textLength="40.85" lengthAdjust="spacingAndGlyphs" xml:space="preserve">0.007022</text>
<text x="781.7" y="425" font-family='"Liberation Sans", sans-serif' font-size="10" text-rendering="geometricPrecision" fill="#000" stroke="#000" stroke-width="0.25" text-anchor="start" font-weight="normal" textLength="17.6" lengthAdjust="spacingAndGlyphs" xml:space="preserve">0.00</text>
<text x="781.7" y="464" font-family='"Liberation Sans", sans-serif' font-size="10" text-rendering="geometricPrecision" fill="#000" stroke="#000" stroke-width="0.25" text-anchor="start" font-weight="normal" textLength="35.61" lengthAdjust="spacingAndGlyphs" xml:space="preserve">-0.01491</text>
<text x="5.2" y="461" font-family='"Liberation Sans", sans-serif' font-size="10" text-rendering="geometricPrecision" fill="#000" stroke="#000" stroke-width="0.25" text-anchor="start" font-weight="normal" textLength="50.85" lengthAdjust="spacingAndGlyphs" xml:space="preserve">MetaTrader</text>
<text x="59.34" y="461" font-family='"Liberation Sans", sans-serif' font-size="10" text-rendering="geometricPrecision" fill="#000" stroke="#000" stroke-width="0.25" text-anchor="start" font-weight="normal" textLength="4.32" lengthAdjust="spacingAndGlyphs" xml:space="preserve">-</text>
<text x="66.95" y="461" font-family='"Liberation Sans", sans-serif' font-size="10" text-rendering="geometricPrecision" fill="#000" stroke="#000" stroke-width="0.25" text-anchor="start" font-weight="normal" textLength="28.86" lengthAdjust="spacingAndGlyphs" xml:space="preserve">Alpari</text>
<text x="96.14" y="461" font-family='"Liberation Sans", sans-serif' font-size="10" text-rendering="geometricPrecision" fill="#000" stroke="#000" stroke-width="0.25" text-anchor="start" font-weight="normal" textLength="15.72" lengthAdjust="spacingAndGlyphs" xml:space="preserve">UK,</text>
<text x="114.66" y="461" font-family='"Liberation Sans", sans-serif' font-size="10" text-rendering="geometricPrecision" fill="#000" stroke="#000" stroke-width="0.25" text-anchor="start" font-weight="normal" textLength="5.64" lengthAdjust="spacingAndGlyphs" xml:space="preserve">?</text>
<text x="122.45" y="461" font-family='"Liberation Sans", sans-serif' font-size="10" text-rendering="geometricPrecision" fill="#000" stroke="#000" stroke-width="0.25" text-anchor="start" font-weight="normal" textLength="45.85" lengthAdjust="spacingAndGlyphs" xml:space="preserve">2001-2010</text>
<text x="169.19" y="461" font-family='"Liberation Sans", sans-serif' font-size="10" text-rendering="geometricPrecision" fill="#000" stroke="#000" stroke-width="0.25" text-anchor="start" font-weight="normal" textLength="53.11" lengthAdjust="spacingAndGlyphs" xml:space="preserve">MetaQuotes</text>
<text x="226.45" y="461" font-family='"Liberation Sans", sans-serif' font-size="10" text-rendering="geometricPrecision" fill="#000" stroke="#000" stroke-width="0.25" text-anchor="start" font-weight="normal" textLength="38.86" lengthAdjust="spacingAndGlyphs" xml:space="preserve">Software</text>
<text x="268.43" y="461" font-family='"Liberation Sans", sans-serif' font-size="10" text-rendering="geometricPrecision" fill="#000" stroke="#000" stroke-width="0.25" text-anchor="start" font-weight="normal" textLength="26.67" lengthAdjust="spacingAndGlyphs" xml:space="preserve">Corp.</text>
<text x="1.7" y="479" font-family='"Liberation Sans", sans-serif' font-size="10" text-rendering="geometricPrecision" fill="#000" stroke="#000" stroke-width="0.25" text-anchor="start" font-weight="normal" textLength="49.6" lengthAdjust="spacingAndGlyphs" xml:space="preserve">4 May 2010</text>
<text x="65.45" y="479" font-family='"Liberation Sans", sans-serif' font-size="10" text-rendering="geometricPrecision" fill="#000" stroke="#000" stroke-width="0.25" text-anchor="start" font-weight="normal" textLength="52.85" lengthAdjust="spacingAndGlyphs" xml:space="preserve">5 May 20:00</text>
<text x="129.45" y="479" font-family='"Liberation Sans", sans-serif' font-size="10" text-rendering="geometricPrecision" fill="#000" stroke="#000" stroke-width="0.25" text-anchor="start" font-weight="normal" textLength="52.85" lengthAdjust="spacingAndGlyphs" xml:space="preserve">7 May 04:00</text>
<text x="194.19" y="479" font-family='"Liberation Sans", sans-serif' font-size="10" text-rendering="geometricPrecision" fill="#000" stroke="#000" stroke-width="0.25" text-anchor="start" font-weight="normal" textLength="57.11" lengthAdjust="spacingAndGlyphs" xml:space="preserve">10 May 12:00</text>
<text x="258.19" y="479" font-family='"Liberation Sans", sans-serif' font-size="10" text-rendering="geometricPrecision" fill="#000" stroke="#000" stroke-width="0.25" text-anchor="start" font-weight="normal" textLength="57.11" lengthAdjust="spacingAndGlyphs" xml:space="preserve">11 May 20:00</text>
<text x="322.19" y="479" font-family='"Liberation Sans", sans-serif' font-size="10" text-rendering="geometricPrecision" fill="#000" stroke="#000" stroke-width="0.25" text-anchor="start" font-weight="normal" textLength="57.11" lengthAdjust="spacingAndGlyphs" xml:space="preserve">13 May 04:00</text>
<text x="386.19" y="479" font-family='"Liberation Sans", sans-serif' font-size="10" text-rendering="geometricPrecision" fill="#000" stroke="#000" stroke-width="0.25" text-anchor="start" font-weight="normal" textLength="57.11" lengthAdjust="spacingAndGlyphs" xml:space="preserve">14 May 12:00</text>
<text x="450.19" y="479" font-family='"Liberation Sans", sans-serif' font-size="10" text-rendering="geometricPrecision" fill="#000" stroke="#000" stroke-width="0.25" text-anchor="start" font-weight="normal" textLength="57.11" lengthAdjust="spacingAndGlyphs" xml:space="preserve">17 May 20:00</text>
<text x="514.19" y="479" font-family='"Liberation Sans", sans-serif' font-size="10" text-rendering="geometricPrecision" fill="#000" stroke="#000" stroke-width="0.25" text-anchor="start" font-weight="normal" textLength="57.11" lengthAdjust="spacingAndGlyphs" xml:space="preserve">19 May 04:00</text>
<text x="576.45" y="479" font-family='"Liberation Sans", sans-serif' font-size="10" text-rendering="geometricPrecision" fill="#000" stroke="#000" stroke-width="0.25" text-anchor="start" font-weight="normal" textLength="58.85" lengthAdjust="spacingAndGlyphs" xml:space="preserve">20 May 12:00</text>
</svg>
</body></html>
